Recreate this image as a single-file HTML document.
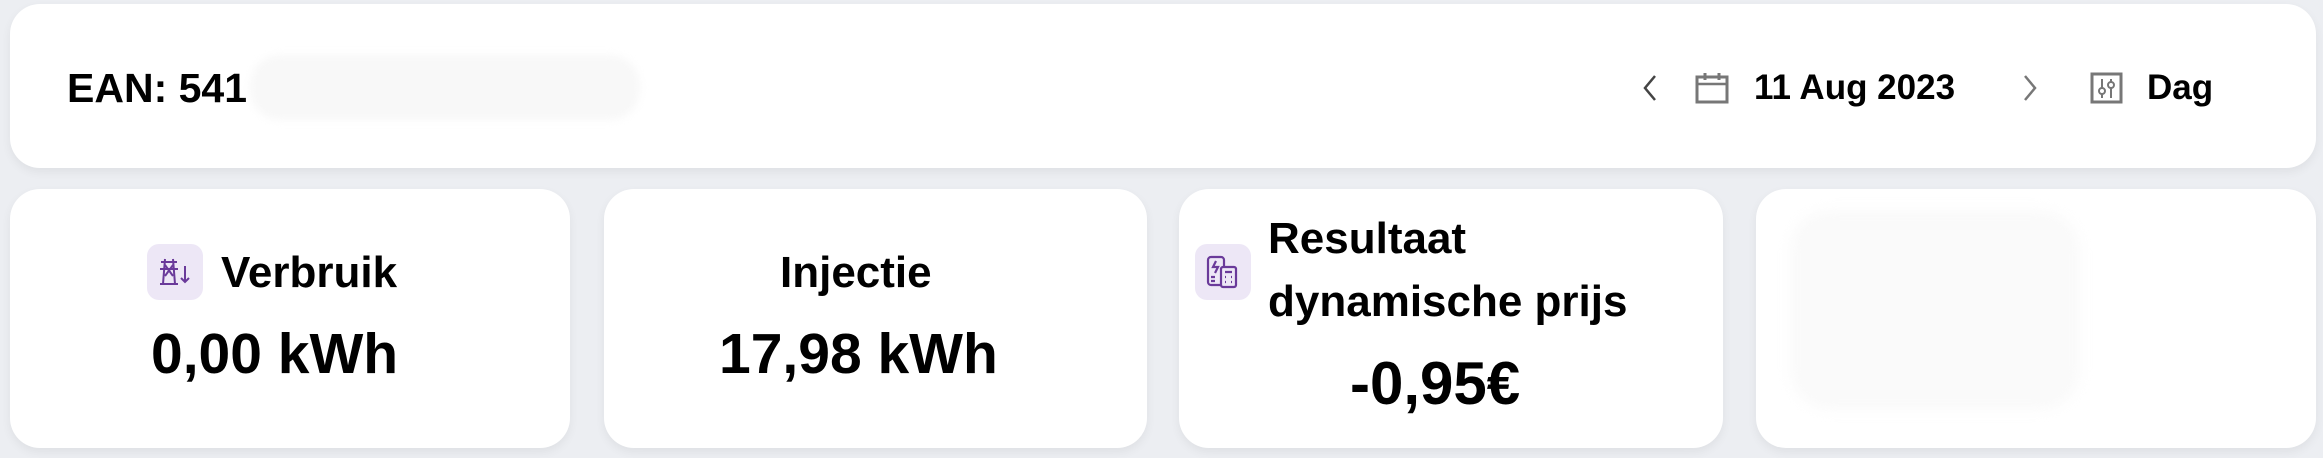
<!DOCTYPE html>
<html><head><meta charset="utf-8"><style>
*{margin:0;padding:0;box-sizing:border-box}
body{width:2323px;height:458px;background:#eceef2;position:relative;overflow:hidden;font-family:"Liberation Sans",sans-serif;font-weight:bold;color:#000}
.card{position:absolute;background:#fff;border-radius:30px;box-shadow:0 4px 10px rgba(0,0,0,0.06)}
.t{position:absolute;white-space:nowrap;line-height:1}
.ib{position:absolute;width:56px;height:56px;border-radius:12px;background:#ede7f6}
</style></head><body>
<div class="card" style="left:10px;top:4px;width:2306px;height:164px"></div>
<div class="t" style="left:67px;top:68px;font-size:41px">EAN: 541</div>
<div style="position:absolute;left:250px;top:55px;width:390px;height:65px;background:#f8f8f8;border-radius:30px;filter:blur(4px)"></div>

<svg style="position:absolute;left:1640px;top:74px" width="20" height="28" viewBox="0 0 20 28"><path d="M15 2 L5 14 L15 26" fill="none" stroke="#444" stroke-width="2.5"/></svg>
<svg style="position:absolute;left:1695px;top:72px" width="34" height="32" viewBox="0 0 34 32"><rect x="2" y="5" width="30" height="25" fill="none" stroke="#777" stroke-width="3"/><line x1="2" y1="12" x2="32" y2="12" stroke="#777" stroke-width="2.5"/><line x1="10" y1="1" x2="10" y2="8" stroke="#777" stroke-width="3"/><line x1="24" y1="1" x2="24" y2="8" stroke="#777" stroke-width="3"/></svg>
<div class="t" style="left:1754px;top:70px;font-size:35px">11 Aug 2023</div>
<svg style="position:absolute;left:2020px;top:74px" width="20" height="28" viewBox="0 0 20 28"><path d="M5 2 L15 14 L5 26" fill="none" stroke="#777" stroke-width="2.5"/></svg>
<svg style="position:absolute;left:2090px;top:72px" width="33" height="32" viewBox="0 0 33 32"><rect x="2" y="2" width="29" height="28" fill="none" stroke="#777" stroke-width="3"/><line x1="12" y1="7" x2="12" y2="26" stroke="#777" stroke-width="2"/><line x1="21" y1="7" x2="21" y2="26" stroke="#777" stroke-width="2"/><circle cx="12" cy="19" r="3" fill="#fff" stroke="#777" stroke-width="2"/><circle cx="21" cy="13" r="3" fill="#fff" stroke="#777" stroke-width="2"/></svg>
<div class="t" style="left:2147px;top:70px;font-size:35px">Dag</div>

<div class="card" style="left:10px;top:189px;width:560px;height:259px"></div>
<div class="ib" style="left:147px;top:244px"></div>
<svg style="position:absolute;left:157px;top:256px" width="36" height="32" viewBox="0 0 36 32"><g fill="none" stroke="#6a3a9a" stroke-width="2"><path d="M4 6 H20 M3 13 H21 M8 3 L6 28 M16 3 L18 28 M8 9 L16 20 M16 9 L8 20 M3 28 H21"/><path d="M28 10 V26 M24 22 L28 26 L32 22"/></g></svg>
<div class="t" style="left:221px;top:251px;font-size:44px">Verbruik</div>
<div class="t" style="left:151px;top:326px;font-size:57px">0,00 kWh</div>

<div class="card" style="left:604px;top:189px;width:543px;height:259px"></div>
<div class="t" style="left:780px;top:251px;font-size:44px">Injectie</div>
<div class="t" style="left:719px;top:326px;font-size:57px">17,98 kWh</div>

<div class="card" style="left:1179px;top:189px;width:544px;height:259px"></div>
<div class="ib" style="left:1195px;top:244px"></div>
<svg style="position:absolute;left:1205px;top:254px" width="36" height="36" viewBox="0 0 36 36"><g fill="none" stroke="#6a3a9a" stroke-width="2.2"><rect x="3" y="3" width="16" height="28" rx="3"/><path d="M11 7 L8 13 H13 L10 19"/><path d="M6 23 H10 M6 27 H10"/><rect x="16" y="13" width="15" height="20" rx="2" fill="#ede7f6"/><path d="M20 18 H27 M20 23 H21 M26 23 H27 M20 28 H21 M26 28 H27"/></g></svg>
<div class="t" style="left:1268px;top:217px;font-size:44px">Resultaat</div>
<div class="t" style="left:1268px;top:280px;font-size:44px">dynamische prijs</div>
<div class="t" style="left:1350px;top:354px;font-size:60px">-0,95€</div>

<div class="card" style="left:1756px;top:189px;width:560px;height:259px"></div>
<div style="position:absolute;left:1790px;top:210px;width:290px;height:200px;background:#fafafa;border-radius:40px;filter:blur(6px)"></div>
</body></html>
